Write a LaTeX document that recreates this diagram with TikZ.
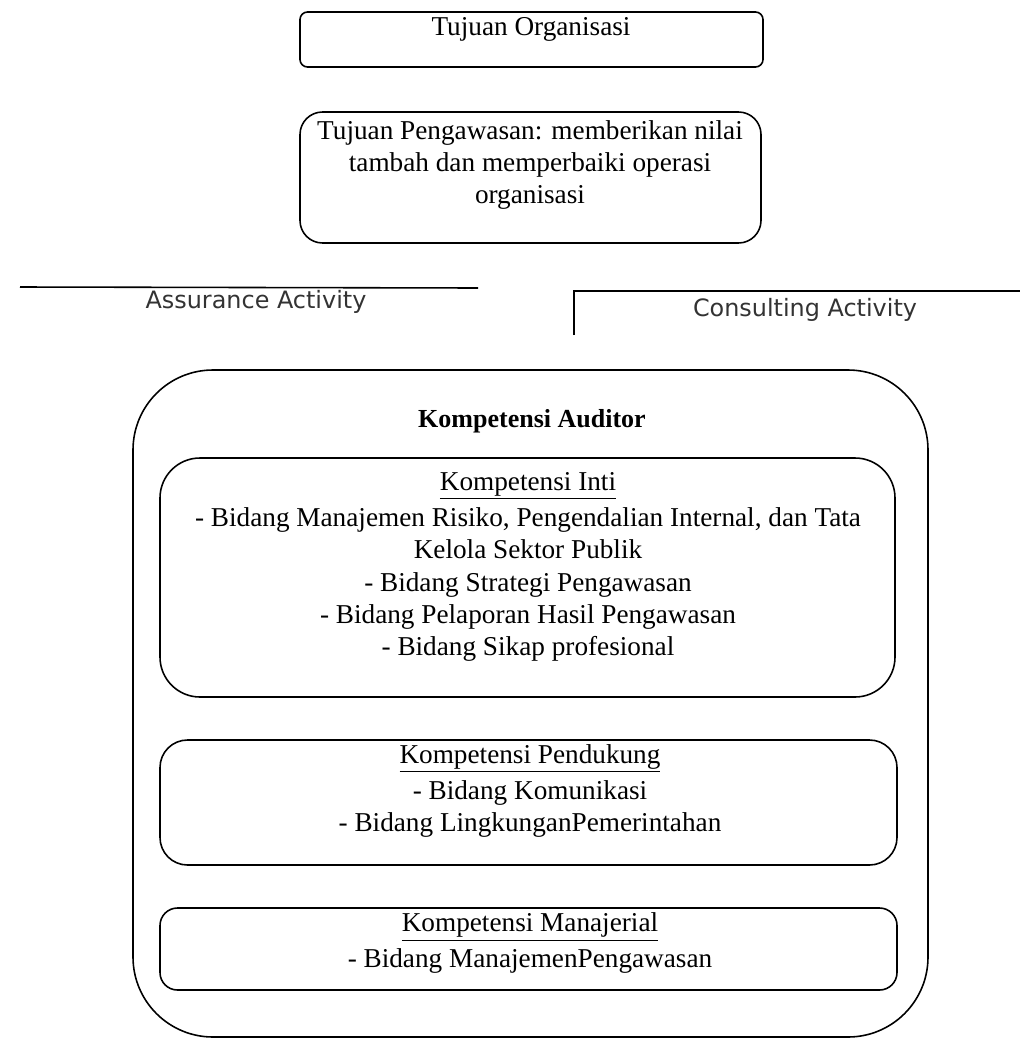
\documentclass[tikz,border=0pt]{standalone}
\usepackage{fontspec}
\setmainfont{Liberation Serif}
\newfontfamily\actfont{DejaVu Sans}
\usetikzlibrary{positioning}

\begin{document}
\begin{tikzpicture}[x=0.02cm,y=-0.02cm,
    panel/.style={draw,line width=0.9pt},
    txt/.style={align=center,inner sep=0pt,font=\fontsize{15.5}{18.4}\selectfont},
    act/.style={inner sep=0pt,font=\actfont\fontsize{13.6}{16}\selectfont,text=black!80}]
  \useasboundingbox (0,0) rectangle (1020,1041);
  % upper boxes
  \draw[panel,rounded corners=0.15cm] (300,12) rectangle (763,67);
  \node[txt] (org) at (531,29) {Tujuan Organisasi};
  \draw[panel,rounded corners=0.45cm] (300,112) rectangle (761,243);
  \node[txt] (aim) at (530,165) {Tujuan Pengawasan: memberikan nilai\\tambah dan memperbaiki operasi\\organisasi};
  % activities
  \coordinate (al) at (20,287);
  \coordinate (ar) at (478,288);
  \draw[line width=0.9pt] (al) -- (ar);
  \node[act] (assur) at (256,302) {Assurance Activity};
  \coordinate (cb) at (574,335);
  \coordinate (cc) at (574,291);
  \coordinate (cr) at (1020,291);
  \draw[line width=0.9pt] (cb) -- (cc) -- (cr);
  \node[act] (consult) at (805,310) {Consulting Activity};
  % kompetensi auditor
  \draw[panel,rounded corners=1.6cm] (133,370) rectangle (928,1037);
  \node[txt,font=\bfseries\fontsize{14.8}{18}\selectfont] (auditor) at (532,421) {Kompetensi Auditor};
  \draw[panel,rounded corners=0.8cm] (160,458) rectangle (895,697);
  \node[txt] (inti) at (528,567) {\underline{Kompetensi Inti}\\[2pt]
    - Bidang Manajemen Risiko, Pengendalian Internal, dan Tata\\
    Kelola Sektor Publik\\
    - Bidang Strategi Pengawasan\\
    - Bidang Pelaporan Hasil Pengawasan\\
    - Bidang Sikap profesional};
  \draw[panel,rounded corners=0.55cm] (160,740) rectangle (897,865);
  \node[txt] (dukung) at (530,791) {\underline{Kompetensi Pendukung}\\[2pt]
    - Bidang Komunikasi\\
    - Bidang LingkunganPemerintahan};
  \draw[panel,rounded corners=0.35cm] (160,908) rectangle (897,990);
  \node[txt] (manaj) at (530,943) {\underline{Kompetensi Manajerial}\\[2pt]
    - Bidang ManajemenPengawasan};
\end{tikzpicture}
\end{document}
